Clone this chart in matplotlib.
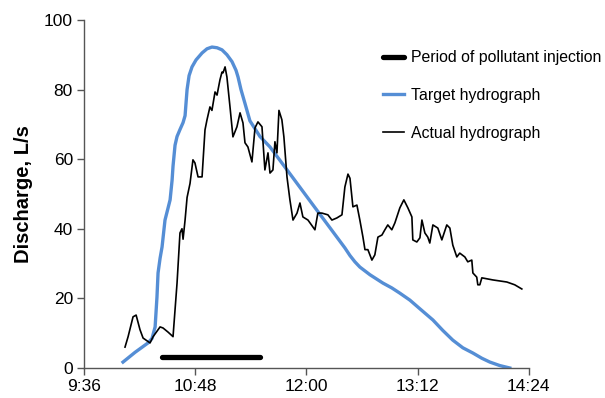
import matplotlib
matplotlib.use("Agg")
import matplotlib.pyplot as plt
from matplotlib.ticker import FuncFormatter, MultipleLocator

plt.rcParams['font.family'] = ['Liberation Sans', 'DejaVu Sans']

# times are minutes since midnight
target_t = [601.2, 609.0, 617.4, 620.0, 622.0, 623.2, 623.9, 625.2, 626.5, 628.4,
            630.4, 631.7, 633.0, 633.6, 634.9, 636.2, 638.1, 640.1, 641.4, 642.0,
            642.7, 644.0, 645.9, 648.5, 652.4, 655.6, 658.8, 662.1, 665.3, 668.5,
            671.8, 674.4, 675.7, 677.6, 680.2, 683.4, 689.9, 696.4, 709.3, 722.3,
            735.2, 744.9, 748.2, 751.4, 754.6, 761.1, 769.5, 775.3, 780.5, 787.0,
            793.5, 801.9, 808.3, 814.8, 821.3, 827.8, 833.6, 838.8, 845.2, 851.7]
target_q = [1.7, 4.5, 7.2, 8.5, 11.8, 20.4, 27.3, 31.5, 34.8, 42.5,
            46.0, 48.3, 54.0, 58.0, 64.0, 66.5, 68.5, 70.5, 72.5, 76.0,
            80.0, 84.0, 86.5, 88.5, 90.5, 91.7, 92.2, 92.0, 91.4, 90.0,
            88.0, 85.5, 83.6, 80.0, 76.0, 71.0, 66.5, 63.5, 55.8, 48.0,
            40.3, 34.5, 32.3, 30.5, 29.0, 26.8, 24.4, 23.0, 21.5, 19.5,
            17.0, 13.8, 10.8, 8.0, 5.8, 4.3, 2.8, 1.7, 0.7, 0.0]

actual_t = [602.5, 604.5, 607.7, 609.7, 612.2, 614.2, 618.7, 620.7, 625.2, 627.1,
            630.4, 633.6, 636.2, 638.1, 639.4, 640.1, 641.4, 642.7, 644.6, 646.5,
            647.8, 649.8, 652.4, 654.3, 655.6, 657.5, 658.8, 660.8, 662.1, 664.0,
            665.3, 666.0, 667.3, 668.5, 670.5, 672.4, 675.0, 677.0, 678.9, 680.2,
            682.1, 684.7, 686.7, 688.6, 691.2, 693.1, 695.1, 696.4, 698.3, 699.6,
            700.9, 702.2, 704.1, 705.4, 707.4, 709.3, 711.3, 713.9, 715.8, 717.7,
            721.0, 725.5, 727.4, 730.0, 733.9, 736.5, 739.7, 743.0, 744.9, 746.9,
            748.2, 750.1, 752.7, 754.6, 756.6, 757.9, 759.8, 762.4, 764.3, 766.3,
            768.9, 770.8, 772.7, 775.3, 777.3, 780.5, 783.1, 785.7, 788.3, 788.9,
            791.5, 793.5, 794.8, 796.7, 798.6, 799.9, 801.9, 805.1, 807.7, 810.9,
            812.9, 814.8, 817.4, 819.3, 822.6, 824.5, 827.1, 827.8, 830.3, 831.0,
            832.3, 833.6, 840.7, 849.8, 854.9, 859.5]
actual_q = [6.0, 9.0, 14.7, 15.2, 11.0, 8.6, 7.2, 9.0, 11.8, 11.5,
            10.3, 9.0, 24.4, 38.8, 40.0, 37.0, 42.5, 49.0, 53.0, 59.8,
            58.9, 54.9, 54.9, 68.4, 71.3, 75.0, 74.0, 79.3, 78.4, 82.8,
            85.0, 84.8, 86.5, 83.6, 75.0, 66.4, 69.3, 73.3, 70.4, 64.7,
            63.5, 59.2, 69.0, 70.7, 69.3, 56.9, 61.8, 56.0, 56.9, 65.0,
            61.8, 74.0, 71.3, 66.4, 54.9, 48.3, 42.5, 44.5, 47.4, 43.4,
            42.5, 39.7, 44.5, 44.5, 44.0, 42.5, 43.1, 44.0, 52.0, 55.7,
            54.5, 46.3, 46.8, 42.5, 37.6, 34.0, 34.0, 31.0, 32.5, 37.6,
            38.2, 39.7, 41.1, 39.7, 41.7, 46.0, 48.3, 46.0, 43.4, 36.8,
            36.2, 37.4, 42.5, 38.8, 37.6, 35.9, 41.1, 40.2, 36.8, 41.1,
            40.2, 35.3, 31.9, 33.0, 31.9, 30.5, 31.0, 27.3, 26.1, 23.9,
            23.9, 25.9, 25.3, 24.7, 23.9, 22.7]

injection_t = [626.6, 690.0]
injection_q = [3.2, 3.2]


def clock(x, pos):
    x = int(round(x))
    return f"{x // 60}:{x % 60:02d}"


fig = plt.figure(figsize=(6.05, 3.98), dpi=100)
ax = fig.add_axes([0.139, 0.0754, 0.735, 0.8746])

ax.plot(injection_t, injection_q, color='black', lw=3.8, solid_capstyle='round',
        label='Period of pollutant injection')
ax.plot(target_t, target_q, color='#558ED5', lw=2.4, solid_joinstyle='round',
        label='Target hydrograph')
ax.plot(actual_t, actual_q, color='black', lw=1.2, solid_joinstyle='round',
        label='Actual hydrograph')

ax.set_xlim(576, 864)
ax.set_ylim(0, 100)
ax.xaxis.set_major_locator(MultipleLocator(72))
ax.xaxis.set_major_formatter(FuncFormatter(clock))
ax.yaxis.set_major_locator(MultipleLocator(20))

for s in ['top', 'right']:
    ax.spines[s].set_visible(False)
for s in ['left', 'bottom']:
    ax.spines[s].set_color('#555555')
    ax.spines[s].set_linewidth(1.0)
ax.tick_params(direction='out', length=5, width=1, color='#555555',
               labelsize=12.5, pad=3)

ax.set_ylabel('Discharge, L/s', fontsize=14.5, fontweight='bold', labelpad=8)

ax.legend(loc='upper left', bbox_to_anchor=(0.64, 0.954), frameon=False,
          fontsize=11.4, handlelength=1.3, labelspacing=1.44, handletextpad=0.5)

fig.savefig('out.png', dpi=100)
